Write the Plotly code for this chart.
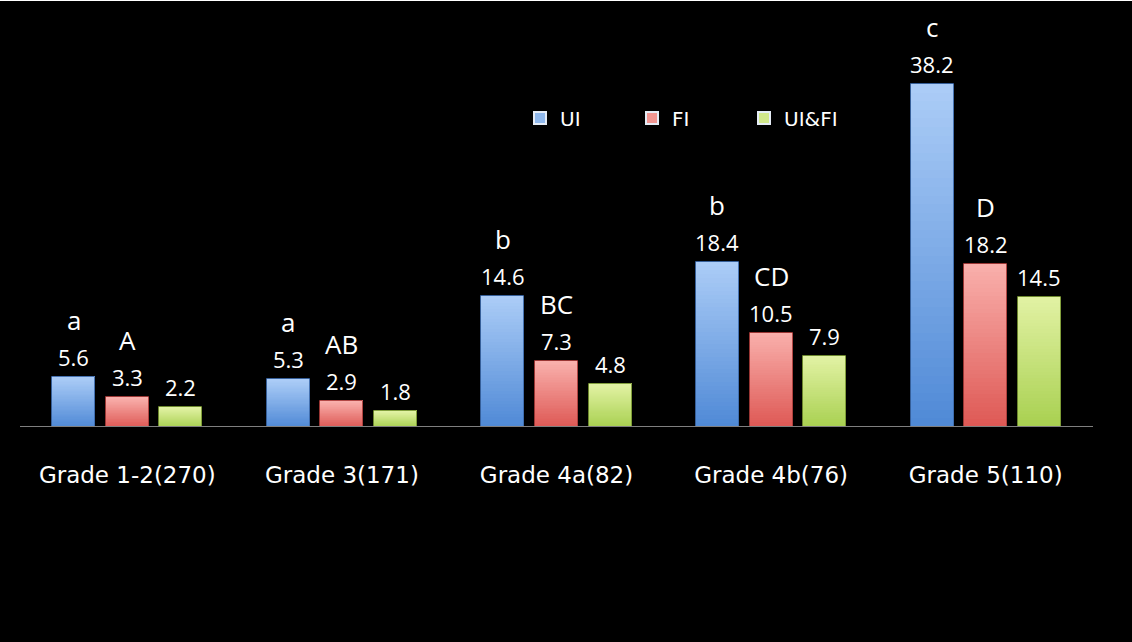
import plotly.graph_objects as go

# Prevalence (%) per grade group, with group sizes in the tick labels
grades = ["Grade 1-2(270)", "Grade 3(171)", "Grade 4a(82)", "Grade 4b(76)", "Grade 5(110)"]
series_names = ["UI", "FI", "UI&FI"]
ui = [5.6, 5.3, 14.6, 18.4, 38.2]
fi = [3.3, 2.9, 7.3, 10.5, 18.2]
ui_fi = [2.2, 1.8, 4.8, 7.9, 14.5]
# significance letters (lowercase: UI, uppercase: FI)
ui_letters = ["a", "a", "b", "b", "c"]
fi_letters = ["A", "AB", "BC", "CD", "D"]

values = [ui, fi, ui_fi]
# bottom -> top colours of each bar's vertical gradient
grad = [
    ((79, 137, 214), (172, 205, 247)),
    ((222, 88, 84), (249, 176, 172)),
    ((168, 208, 80), (226, 242, 164)),
]
edge = ["rgba(60,105,170,0.9)", "rgba(170,60,58,0.9)", "rgba(120,150,50,0.9)"]
offsets = [-0.25, 0.0, 0.25]
bar_w = 0.2
N_SLICES = 40

LABEL_FONT = "Open Sans"
TICK_FONT = "DejaVu Sans"

fig = go.Figure()
xs = list(range(len(grades)))


def mix(c0, c1, t):
    return "rgb(%d,%d,%d)" % tuple(round(a + (b - a) * t) for a, b in zip(c0, c1))


for s, (name, vals) in enumerate(zip(series_names, values)):
    xpos = [x + offsets[s] for x in xs]
    c0, c1 = grad[s]
    # gradient: stack thin slices of each bar on top of each other
    for k in range(N_SLICES):
        t = (k + 0.5) / N_SLICES
        fig.add_trace(go.Bar(
            x=xpos,
            y=[v / N_SLICES for v in vals],
            base=[v * k / N_SLICES for v in vals],
            width=bar_w,
            marker=dict(color=mix(c0, c1, t), line=dict(width=0)),
            name=name,
            legendgroup=name,
            showlegend=False,
            hoverinfo="skip",
        ))
    # thin outline around the whole bar
    fig.add_trace(go.Bar(
        x=xpos,
        y=vals,
        width=bar_w,
        marker=dict(color="rgba(0,0,0,0)", line=dict(color=edge[s], width=1)),
        name=name,
        legendgroup=name,
        showlegend=False,
        hovertemplate=name + ": %{y}<extra></extra>",
    ))

    # value labels above each bar
    for x, v in zip(xpos, vals):
        fig.add_annotation(x=x, y=v, text=f"{v}", showarrow=False,
                           yanchor="middle", yshift=20,
                           font=dict(family=LABEL_FONT, size=22, color="white"))

# significance letters
for x, v, t in zip(xs, ui, ui_letters):
    fig.add_annotation(x=x + offsets[0], y=v, text=t, showarrow=False,
                       yanchor="middle", yshift=57,
                       font=dict(family=LABEL_FONT, size=26, color="white"))
for x, v, t in zip(xs, fi, fi_letters):
    fig.add_annotation(x=x + offsets[1], y=v, text=t, showarrow=False,
                       yanchor="middle", yshift=57,
                       font=dict(family=LABEL_FONT, size=26, color="white"))

# legend swatches (solid, lighter tone)
for s, name in enumerate(series_names):
    fig.add_trace(go.Bar(x=[None], y=[None], name=name, legendgroup=name,
                         marker=dict(color=mix(grad[s][0], grad[s][1], 0.7)),
                         showlegend=True))

fig.update_layout(
    width=1132, height=642,
    paper_bgcolor="black", plot_bgcolor="black",
    margin=dict(l=20, r=39, t=68, b=215),
    barmode="overlay",
    bargap=0,
    showlegend=True,
    legend=dict(orientation="h", x=0.466, y=0.861, xanchor="left", yanchor="middle",
                entrywidth=67, entrywidthmode="pixels",
                font=dict(family="DejaVu Sans", size=20, color="white"),
                bgcolor="rgba(0,0,0,0)", itemsizing="constant"),
    xaxis=dict(range=[-0.5, 4.5], tickvals=xs, ticktext=grades,
               showgrid=False, zeroline=False, showline=False, ticks="",
               ticklabelstandoff=32,
               tickfont=dict(family=TICK_FONT, size=23, color="white")),
    yaxis=dict(range=[0, 40], visible=False, showgrid=False, zeroline=False),
)

# baseline
fig.add_shape(type="line", xref="paper", yref="y", x0=0, x1=1, y0=0, y1=0,
              line=dict(color="#7f7f7f", width=2), layer="above")
# thin white frame along the top edge of the page
fig.add_shape(type="line", xref="paper", yref="paper", x0=-0.02, x1=1.04,
              y0=1.1894, y1=1.1894, line=dict(color="white", width=2))

fig.write_html("out.html")
